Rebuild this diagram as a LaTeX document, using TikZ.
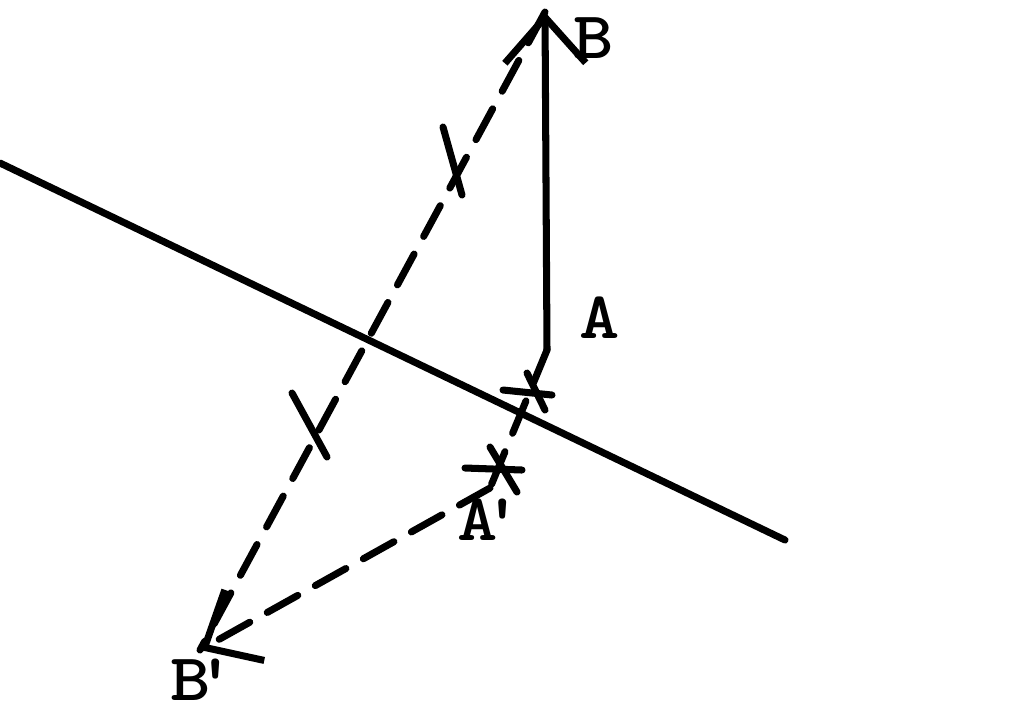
\documentclass[tikz,border=0pt]{standalone}
\usepackage{graphicx}
\usetikzlibrary{positioning, arrows.meta}

\newcommand{\ptlabel}[1]{\scalebox{1.15}[1]{#1}}

\begin{document}
\begin{tikzpicture}[x=0.01cm, y=-0.01cm, line width=2pt, line cap=round,
        every node/.style={font=\ttfamily\bfseries\fontsize{19}{20}\selectfont, inner sep=0pt},
        barb/.style={-{Straight Barb[length=13pt, width=23pt, line width=2pt]}},
        dash line/.style={dash pattern=on 0.35cm off 0.2cm}]
        \useasboundingbox (0,0) rectangle (1024,720);

        % Points
        \coordinate (A) at (547,350);
        \coordinate (B) at (545,12);
        \coordinate (A') at (490,488);
        \coordinate (B') at (200,650);
        \coordinate (M1) at (0,163);
        \coordinate (M2) at (785,540);

        % Labels
        \node (lA) at (600,318) {\ptlabel{A}};
        \node (lB) at (594,38) {\ptlabel{B}};
        \node (lA') at (490,520) {\ptlabel{A\kern-.2em'}};
        \node (lB') at (203,680) {\ptlabel{B\kern-.2em'}};

        % Mirror
        \draw (M1) -- (M2);

        % Object and image
        \draw[barb] (A) -- (B);
        \draw[dash line] (B) -- (B');
        \draw[dash line] (A) -- (A');
        \draw[dash line, barb] (A') -- (B');

        % Equal marks
        \foreach \p/\q in {{443,127}/{462,195}, {292,393}/{327,457},
                {527,373}/{545,410}, {503,390}/{552,395},
                {490,447}/{517,492}, {465,468}/{522,470}} {
                \draw (\p) -- (\q);
        }
\end{tikzpicture}
\end{document}
